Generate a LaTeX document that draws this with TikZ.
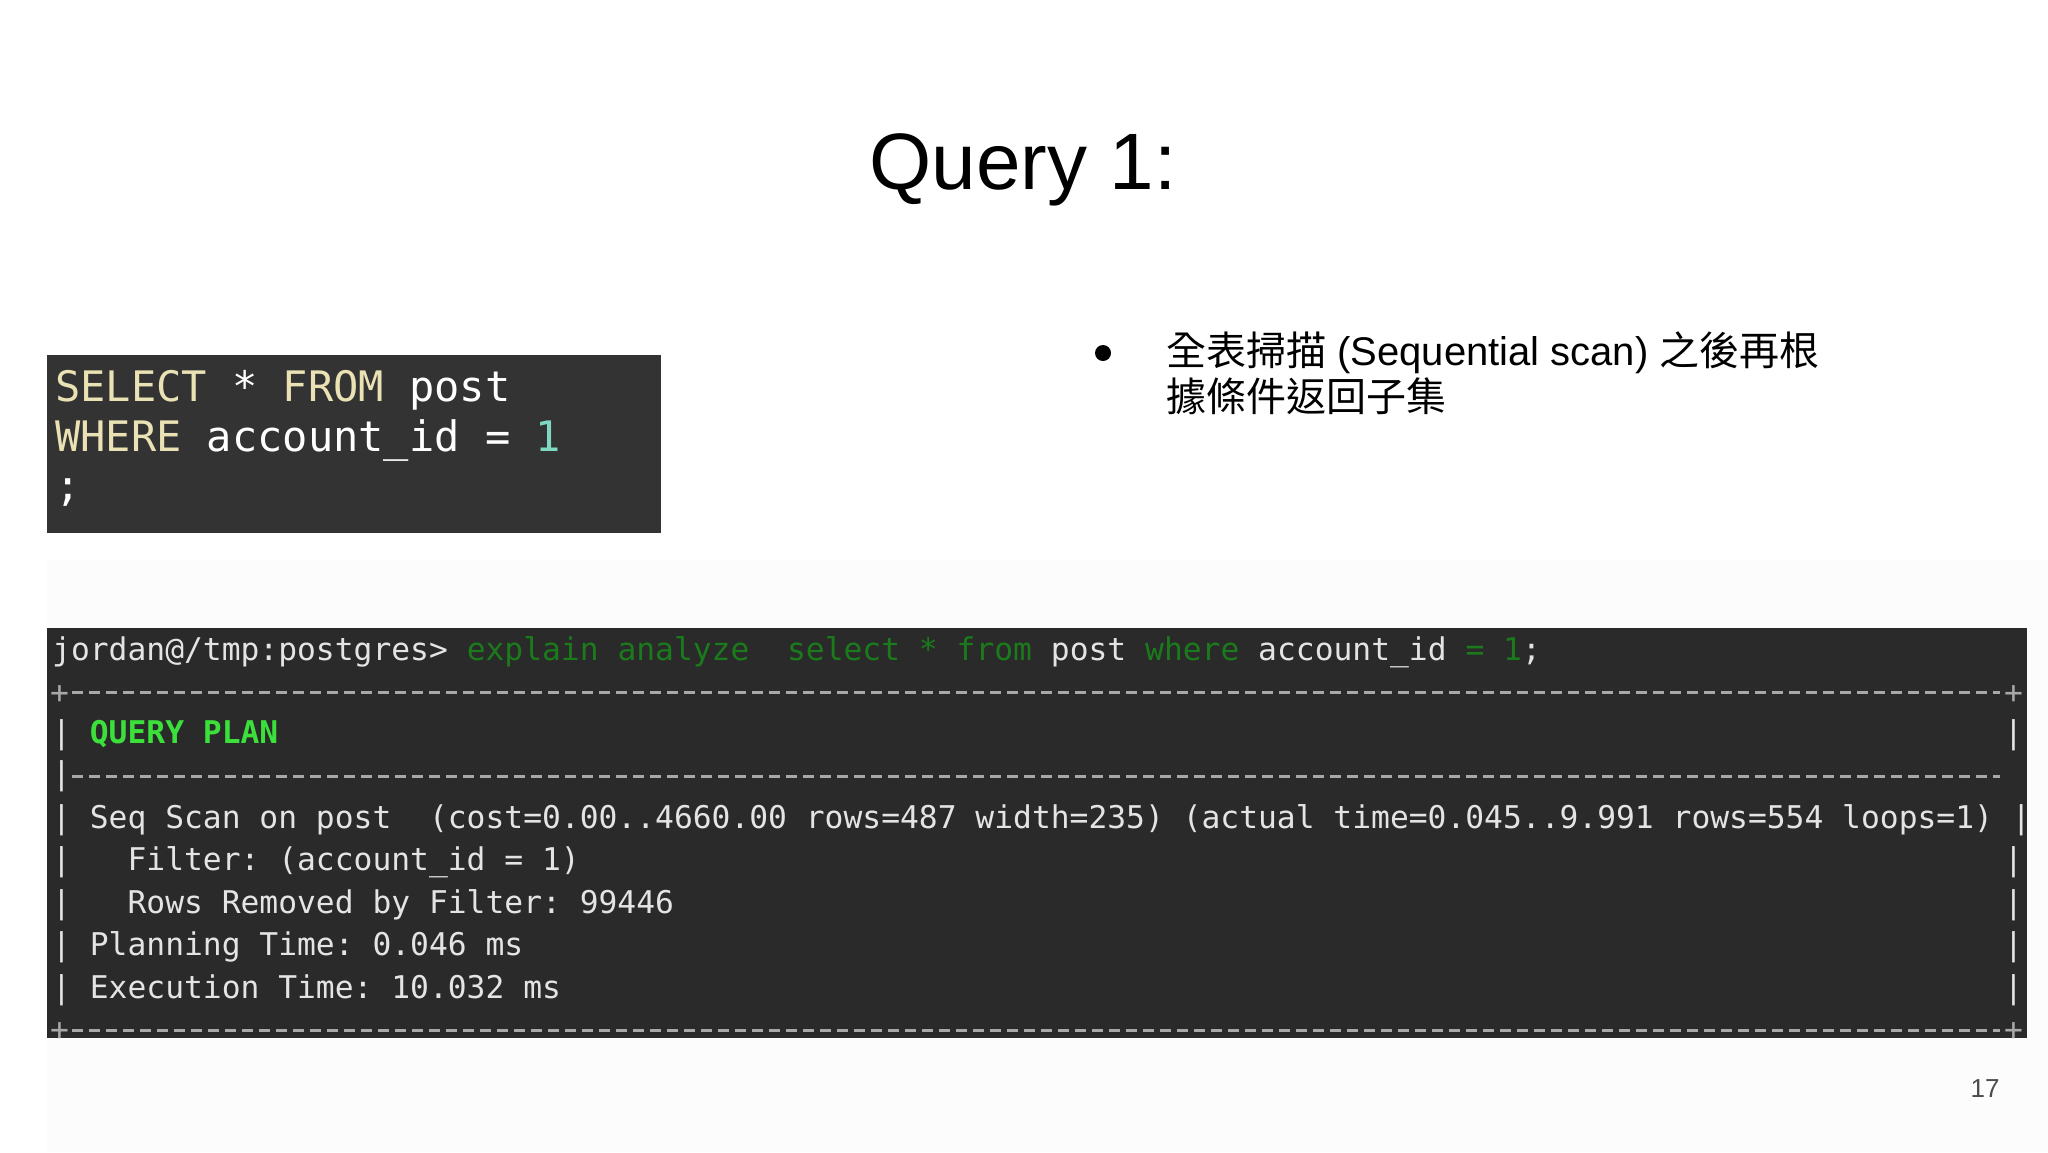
\documentclass[tikz,border=0pt]{standalone}
\usepackage{fontspec}
\setmainfont{Liberation Sans}
\setmonofont{DejaVu Sans Mono}
\newfontfamily\cjk{Noto Sans CJK TC}
\definecolor{sqlbg}{HTML}{333333}
\definecolor{termbg}{HTML}{2A2A2A}
\definecolor{kw}{HTML}{EAE2B4}
\definecolor{num}{HTML}{7FD9C2}
\definecolor{dimg}{HTML}{1B7A1B}
\definecolor{brg}{HTML}{3BE03B}
\definecolor{tw}{HTML}{E4E4E4}
\definecolor{dashc}{HTML}{A8A8A8}
\tikzset{
 sql/.style={anchor=base west,inner sep=0,font=\ttfamily\fontsize{42}{50}\selectfont,text=white},
 term/.style={anchor=base west,inner sep=0,font=\ttfamily\fontsize{31.3}{40}\selectfont,text=tw},
 rule/.style={draw=dashc,line width=3pt,dash pattern=on 11pt off 6pt},
 cjkt/.style={anchor=base west,inner sep=0,font=\fontsize{40}{46}\selectfont,text=black}
}
\begin{document}
\begin{tikzpicture}[x=1pt,y=-1pt]
\useasboundingbox[fill=white] (0,0) rectangle (2048,1152);
\fill[black!1] (47,560) rectangle (2048,1152);
\node[anchor=center,inner sep=0,font=\fontsize{80}{96}\selectfont] (title) at (1023,170) {Query 1:};
% SQL box
\fill[sqlbg] (47,355) rectangle (661,533);
\node[sql] (s1) at (55,401) {\textcolor{kw}{SELECT} * \textcolor{kw}{FROM} post};
\node[sql] (s2) at (55,451) {\textcolor{kw}{WHERE} account\_id = \textcolor{num}{1}};
\node[sql] (s3) at (55,500) {;};
% bullet
\fill (1103,353) circle (8);
\node[cjkt] (b1) at (1166,365) {{\cjk 全表掃描} (Sequential scan) {\cjk 之後再根}};
\node[cjkt] (b2) at (1166,411) {\cjk 據條件返回子集};
% terminal
\fill[termbg] (47,628) rectangle (2027,1038);
\node[term] (t0) at (52,660) {jordan@/tmp:postgres> \textcolor{dimg}{explain analyze\ \ select * from} post \textcolor{dimg}{where} account\_id \textcolor{dimg}{= 1};};
\node[term,text=dashc] (p1) at (50,703) {+};
\node[term,text=dashc] (p2) at (2004,703) {+};
\draw[rule] (72,692) -- (2000,692);
\node[term] (t1) at (52,743) {| \textcolor{brg}{\bfseries QUERY PLAN}};
\node[term] (t1r) at (2004,743) {|};
\node[term] (p3) at (52,784) {|};
\draw[rule] (72,776) -- (2000,776);
\node[term] (t2) at (52,828) {| Seq Scan on post\ \ (cost=0.00..4660.00 rows=487 width=235) (actual time=0.045..9.991 rows=554 loops=1) |};
\node[term] (t3) at (52,870) {|\ \ \ Filter: (account\_id = 1)};
\node[term] (t3r) at (2004,870) {|};
\node[term] (t4) at (52,913) {|\ \ \ Rows Removed by Filter: 99446};
\node[term] (t4r) at (2004,913) {|};
\node[term] (t5) at (52,955) {| Planning Time: 0.046 ms};
\node[term] (t5r) at (2004,955) {|};
\node[term] (t6) at (52,998) {| Execution Time: 10.032 ms};
\node[term] (t6r) at (2004,998) {|};
\node[term,text=dashc] (p4) at (50,1040) {+};
\node[term,text=dashc] (p5) at (2004,1040) {+};
\draw[rule] (72,1030) -- (2000,1030);
\node[anchor=center,inner sep=0,font=\fontsize{26}{30}\selectfont,text=black!70] (pg) at (1985,1089) {17};
\end{tikzpicture}
\end{document}
